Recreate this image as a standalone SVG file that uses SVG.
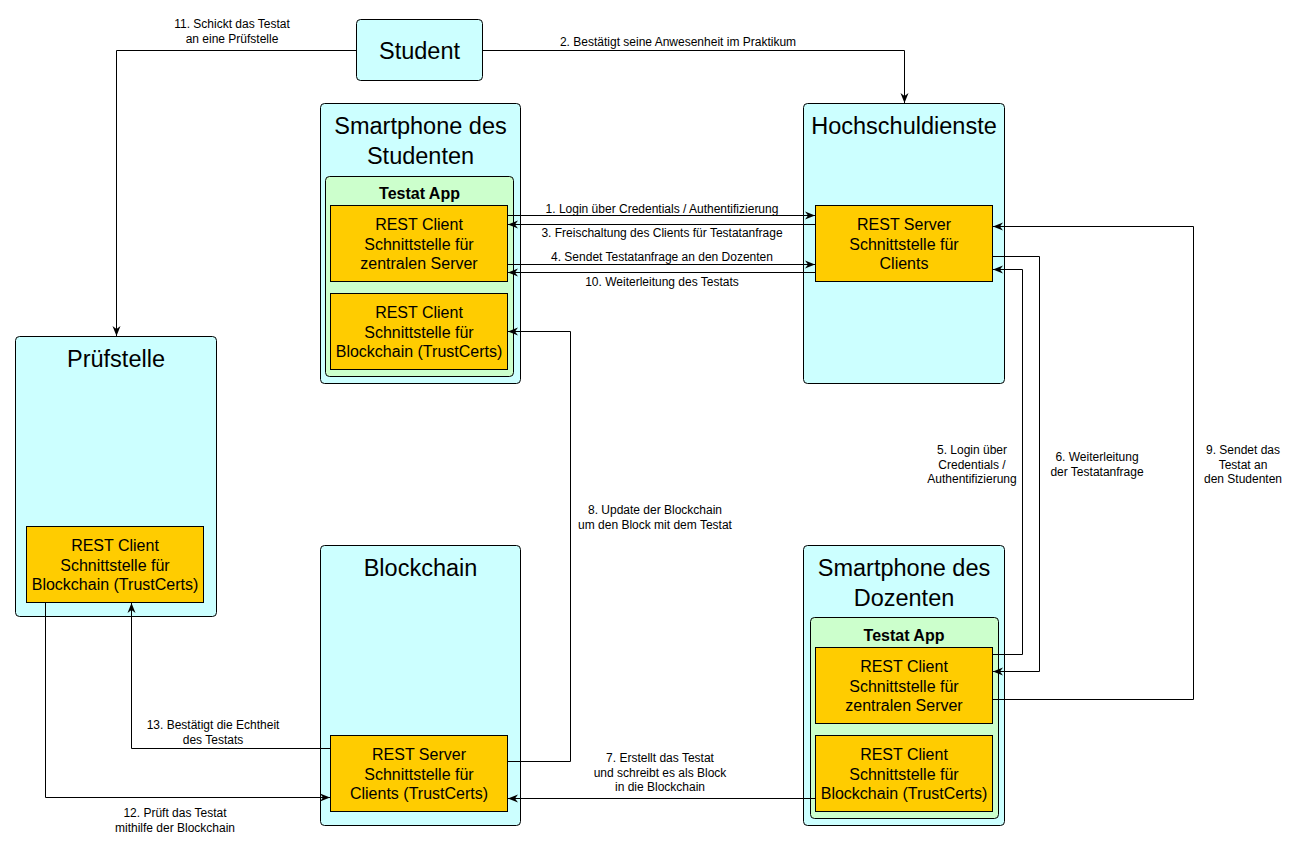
<svg xmlns="http://www.w3.org/2000/svg" width="1306" height="851" viewBox="0 0 1306 851">
<defs>
<style>
.c{fill:#CCFFFF;stroke:#000;stroke-width:1}
.g{fill:#CCFFCC;stroke:#000;stroke-width:1}
.o{fill:#FFCC00;stroke:#000;stroke-width:1}
.t{font-family:"Liberation Sans",Arial,sans-serif;font-size:23.5px;fill:#000;text-anchor:middle}
.a{font-family:"Liberation Sans",Arial,sans-serif;font-size:16px;font-weight:bold;fill:#000;text-anchor:middle}
.b{font-family:"Liberation Sans",Arial,sans-serif;font-size:16px;fill:#000;text-anchor:middle}
.l{font-family:"Liberation Sans",Arial,sans-serif;font-size:12px;fill:#000;text-anchor:middle}
.e{fill:none;stroke:#000;stroke-width:1;marker-end:url(#ar)}
</style>
<marker id="ar" viewBox="0 0 10 10" refX="10" refY="5" markerWidth="10" markerHeight="10" markerUnits="userSpaceOnUse" orient="auto">
<path d="M0,1 L10,5 L0,9 L3,5 Z" fill="#000"/>
</marker>
</defs>
<rect width="1306" height="851" fill="#fff"/>

<g id="student">
<rect class="c" x="356.5" y="19.5" width="126" height="61" rx="4"/>
<text class="t" x="419.5" y="58.5">Student</text>
</g>

<g id="smartphone-studenten">
<rect class="c" x="320.5" y="103.5" width="200" height="280" rx="4"/>
<text class="t" x="420.5" y="133.5">Smartphone des</text>
<text class="t" x="420.5" y="163.5">Studenten</text>
<rect class="g" x="325.5" y="176.5" width="188" height="200" rx="4"/>
<text class="a" x="419.5" y="199">Testat App</text>
<rect class="o" x="330.5" y="205.5" width="177" height="76"/>
<text class="b" x="419" y="230">REST Client</text>
<text class="b" x="419" y="249.5">Schnittstelle für</text>
<text class="b" x="419" y="269">zentralen Server</text>
<rect class="o" x="330.5" y="293.5" width="177" height="76"/>
<text class="b" x="419" y="318">REST Client</text>
<text class="b" x="419" y="337.5">Schnittstelle für</text>
<text class="b" x="419" y="357">Blockchain (TrustCerts)</text>
</g>

<g id="hochschuldienste">
<rect class="c" x="803.5" y="103.5" width="201" height="280" rx="4"/>
<text class="t" x="904" y="133.5">Hochschuldienste</text>
<rect class="o" x="815.5" y="205.5" width="177" height="76"/>
<text class="b" x="904" y="230">REST Server</text>
<text class="b" x="904" y="249.5">Schnittstelle für</text>
<text class="b" x="904" y="269">Clients</text>
</g>

<g id="pruefstelle">
<rect class="c" x="15.5" y="336.5" width="201" height="280" rx="4"/>
<text class="t" x="116" y="366.5">Prüfstelle</text>
<rect class="o" x="26.5" y="526.5" width="177" height="76"/>
<text class="b" x="115" y="551">REST Client</text>
<text class="b" x="115" y="570.5">Schnittstelle für</text>
<text class="b" x="115" y="590">Blockchain (TrustCerts)</text>
</g>

<g id="blockchain">
<rect class="c" x="320.5" y="545.5" width="200" height="280" rx="4"/>
<text class="t" x="420.5" y="575.5">Blockchain</text>
<rect class="o" x="330.5" y="735.5" width="177" height="76"/>
<text class="b" x="419" y="760">REST Server</text>
<text class="b" x="419" y="779.5">Schnittstelle für</text>
<text class="b" x="419" y="799">Clients (TrustCerts)</text>
</g>

<g id="smartphone-dozenten">
<rect class="c" x="803.5" y="545.5" width="201" height="280" rx="4"/>
<text class="t" x="904" y="575.5">Smartphone des</text>
<text class="t" x="904" y="605.5">Dozenten</text>
<rect class="g" x="810.5" y="617.5" width="188" height="201" rx="4"/>
<text class="a" x="904" y="641">Testat App</text>
<rect class="o" x="815.5" y="647.5" width="177" height="76"/>
<text class="b" x="904" y="672">REST Client</text>
<text class="b" x="904" y="691.5">Schnittstelle für</text>
<text class="b" x="904" y="711">zentralen Server</text>
<rect class="o" x="815.5" y="735.5" width="177" height="76"/>
<text class="b" x="904" y="760">REST Client</text>
<text class="b" x="904" y="779.5">Schnittstelle für</text>
<text class="b" x="904" y="799">Blockchain (TrustCerts)</text>
</g>

<g id="connectors">
<path class="e" d="M356,50.5 H116.5 V336"/>
<path class="e" d="M482,50.5 H904.5 V103"/>
<path class="e" d="M507,215.5 H815"/>
<path class="e" d="M815,224.5 H508"/>
<path class="e" d="M507,264.5 H815"/>
<path class="e" d="M815,272.5 H508"/>
<path class="e" d="M992,654.5 H1022.5 V269.5 H993"/>
<path class="e" d="M992,256.5 H1039.5 V671.5 H993"/>
<path class="e" d="M992,699.5 H1193.5 V226.5 H993"/>
<path class="e" d="M507,761.5 H570.5 V331.5 H508"/>
<path class="e" d="M815,798.5 H508"/>
<path class="e" d="M330,748.5 H131.5 V603"/>
<path class="e" d="M45.5,603 V797.5 H330"/>
<text class="l" x="232" y="28">11. Schickt das Testat</text>
<text class="l" x="232" y="43">an eine Prüfstelle</text>
<text class="l" x="678" y="46">2. Bestätigt seine Anwesenheit im Praktikum</text>
<text class="l" x="662" y="213">1. Login über Credentials / Authentifizierung</text>
<text class="l" x="662" y="237">3. Freischaltung des Clients für Testatanfrage</text>
<text class="l" x="662" y="261">4. Sendet Testatanfrage an den Dozenten</text>
<text class="l" x="662" y="286">10. Weiterleitung des Testats</text>
<text class="l" x="972" y="454">5. Login über</text>
<text class="l" x="972" y="468.5">Credentials /</text>
<text class="l" x="972" y="483">Authentifizierung</text>
<text class="l" x="1097" y="461">6. Weiterleitung</text>
<text class="l" x="1097" y="475.5">der Testatanfrage</text>
<text class="l" x="1243" y="454">9. Sendet das</text>
<text class="l" x="1243" y="468.5">Testat an</text>
<text class="l" x="1243" y="483">den Studenten</text>
<text class="l" x="655" y="514">8. Update der Blockchain</text>
<text class="l" x="655" y="528.5">um den Block mit dem Testat</text>
<text class="l" x="660" y="762">7. Erstellt das Testat</text>
<text class="l" x="660" y="776.5">und schreibt es als Block</text>
<text class="l" x="660" y="791">in die Blockchain</text>
<text class="l" x="213" y="729">13. Bestätigt die Echtheit</text>
<text class="l" x="213" y="743.5">des Testats</text>
<text class="l" x="175" y="817">12. Prüft das Testat</text>
<text class="l" x="175" y="831.5">mithilfe der Blockchain</text>
</g>
</svg>
